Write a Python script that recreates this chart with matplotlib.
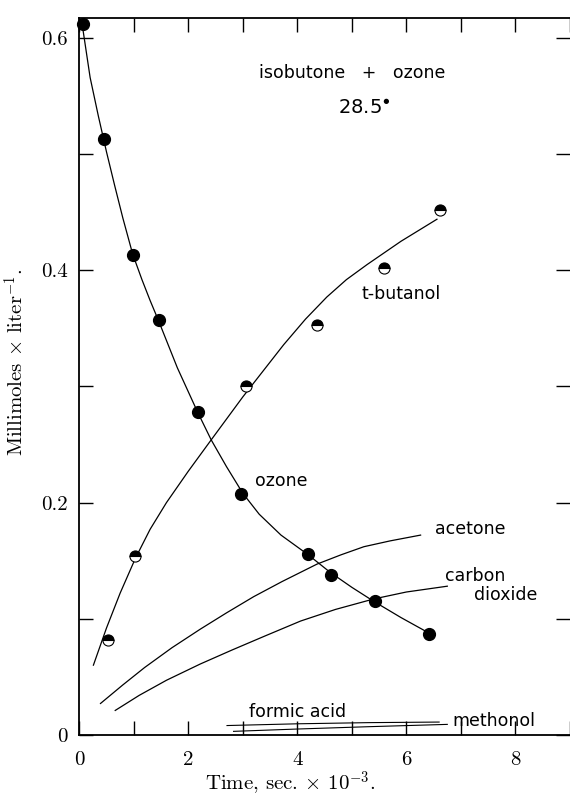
import numpy as np
import matplotlib
matplotlib.use("Agg")
import matplotlib.pyplot as plt
from matplotlib.ticker import MultipleLocator

plt.rcParams['mathtext.fontset'] = 'cm'
plt.rcParams['axes.unicode_minus'] = False

# measured points (time in sec x 10^-3, millimoles / liter)
ozone_t = [0.07, 0.45, 0.98, 1.46, 2.17, 2.97, 4.19, 4.61, 5.42, 6.41]
ozone_c = [0.612, 0.513, 0.413, 0.357, 0.278, 0.207, 0.156, 0.138, 0.115, 0.087]

butanol_t = [0.53, 1.03, 3.05, 4.36, 5.58, 6.61]
butanol_c = [0.082, 0.154, 0.300, 0.353, 0.402, 0.452]

# hand-drawn curves
ozone_curve_t = [0.05, 0.2, 0.35, 0.5, 0.65, 0.8, 0.98, 1.15, 1.3, 1.46, 1.8, 2.17,
                 2.42, 2.7, 3.0, 3.3, 3.7, 4.2, 4.6, 5.0, 5.4, 5.9, 6.4]
ozone_curve_c = [0.613, 0.566, 0.533, 0.502, 0.473, 0.445, 0.414, 0.392, 0.374, 0.356,
                 0.316, 0.278, 0.254, 0.231, 0.208, 0.190, 0.172, 0.155, 0.140, 0.127,
                 0.115, 0.101, 0.088]

butanol_curve_t = [0.26, 0.5, 0.75, 1.03, 1.3, 1.6, 2.0, 2.42, 3.0, 3.75, 4.15, 4.54,
                   4.9, 5.28, 5.9, 6.56]
butanol_curve_c = [0.060, 0.092, 0.122, 0.152, 0.177, 0.200, 0.227, 0.254, 0.291, 0.336,
                   0.358, 0.377, 0.392, 0.405, 0.425, 0.444]

acetone_t = [0.39, 0.8, 1.2, 1.7, 2.22, 2.7, 3.2, 3.72, 4.36, 4.8, 5.22, 5.7, 6.26]
acetone_c = [0.027, 0.043, 0.058, 0.075, 0.091, 0.105, 0.119, 0.132, 0.147, 0.155,
             0.162, 0.167, 0.172]

co2_t = [0.66, 1.1, 1.6, 2.22, 2.8, 3.4, 4.06, 4.7, 5.4, 6.0, 6.75]
co2_c = [0.021, 0.034, 0.047, 0.061, 0.073, 0.085, 0.098, 0.108, 0.117, 0.123, 0.128]

formic_t = [2.71, 4.0, 5.3, 6.6]
formic_c = [0.008, 0.0095, 0.0105, 0.011]

methanol_t = [2.83, 4.0, 5.3, 6.75]
methanol_c = [0.003, 0.005, 0.007, 0.009]

fig = plt.figure(figsize=(5.7, 7.97), dpi=100)
ax = fig.add_axes([0.139, 0.078, 0.861, 0.899])

lw = 0.9
ax.plot(ozone_curve_t, ozone_curve_c, color='black', lw=lw)
ax.plot(butanol_curve_t, butanol_curve_c, color='black', lw=lw)
ax.plot(acetone_t, acetone_c, color='black', lw=lw)
ax.plot(co2_t, co2_c, color='black', lw=lw)
ax.plot(formic_t, formic_c, color='black', lw=0.8)
ax.plot(methanol_t, methanol_c, color='black', lw=0.8)

ax.plot(ozone_t, ozone_c, 'o', color='black', ms=8.5, clip_on=False, zorder=5)
ax.plot(butanol_t, butanol_c, 'o', ms=8, fillstyle='top', markerfacecolor='black',
        markerfacecoloralt='white', markeredgecolor='black', markeredgewidth=0.8,
        zorder=5)

lab = dict(family='DejaVu Sans', fontsize=12.5, color='black')
ax.text(5.01, 0.570, 'isobutone   +   ozone', ha='center', va='center', **lab)
ax.text(5.23, 0.540, '28.5$^{\\bullet}$', ha='center', va='center', fontsize=14,
        family='DejaVu Sans')
ax.text(5.91, 0.380, 't-butanol', ha='center', va='center', **lab)
ax.text(3.71, 0.219, 'ozone', ha='center', va='center', **lab)
ax.text(7.17, 0.177, 'acetone', ha='center', va='center', **lab)
ax.text(7.27, 0.137, 'carbon', ha='center', va='center', **lab)
ax.text(7.82, 0.120, 'dioxide', ha='center', va='center', **lab)
ax.text(4.0, 0.020, 'formic acid', ha='center', va='center', **lab)
ax.text(7.6, 0.012, 'methonol', ha='center', va='center', **lab)

ax.set_xlim(0, 9.0)
ax.set_ylim(0, 0.617)

ax.xaxis.set_minor_locator(MultipleLocator(1))
ax.yaxis.set_minor_locator(MultipleLocator(0.1))
ax.set_xticks([0, 2, 4, 6, 8])
ax.set_xticklabels(['0', '2', '4', '6', '8'], family='cmr10', fontsize=15)
ax.set_yticks([0, 0.2, 0.4, 0.6])
ax.set_yticklabels(['0', '0.2', '0.4', '0.6'], family='cmr10', fontsize=15)

ax.tick_params(which='both', direction='in', top=True, right=True, width=1.0, length=10)
ax.tick_params(axis='x', pad=12)
ax.tick_params(axis='y', pad=8)

for s in ['left', 'bottom', 'top']:
    ax.spines[s].set_linewidth(1.3)
ax.spines['right'].set_visible(False)

ax.set_xlabel(r'Time, sec. $\times$ 10$^{-3}$.', family='cmr10', fontsize=15)
ax.set_ylabel(r'Millimoles $\times$ liter$^{-1}$.', family='cmr10', fontsize=15)
ax.xaxis.set_label_coords(0.43, -0.048)
ax.yaxis.set_label_coords(-0.104, 0.52)

fig.savefig('out.png', dpi=100)
